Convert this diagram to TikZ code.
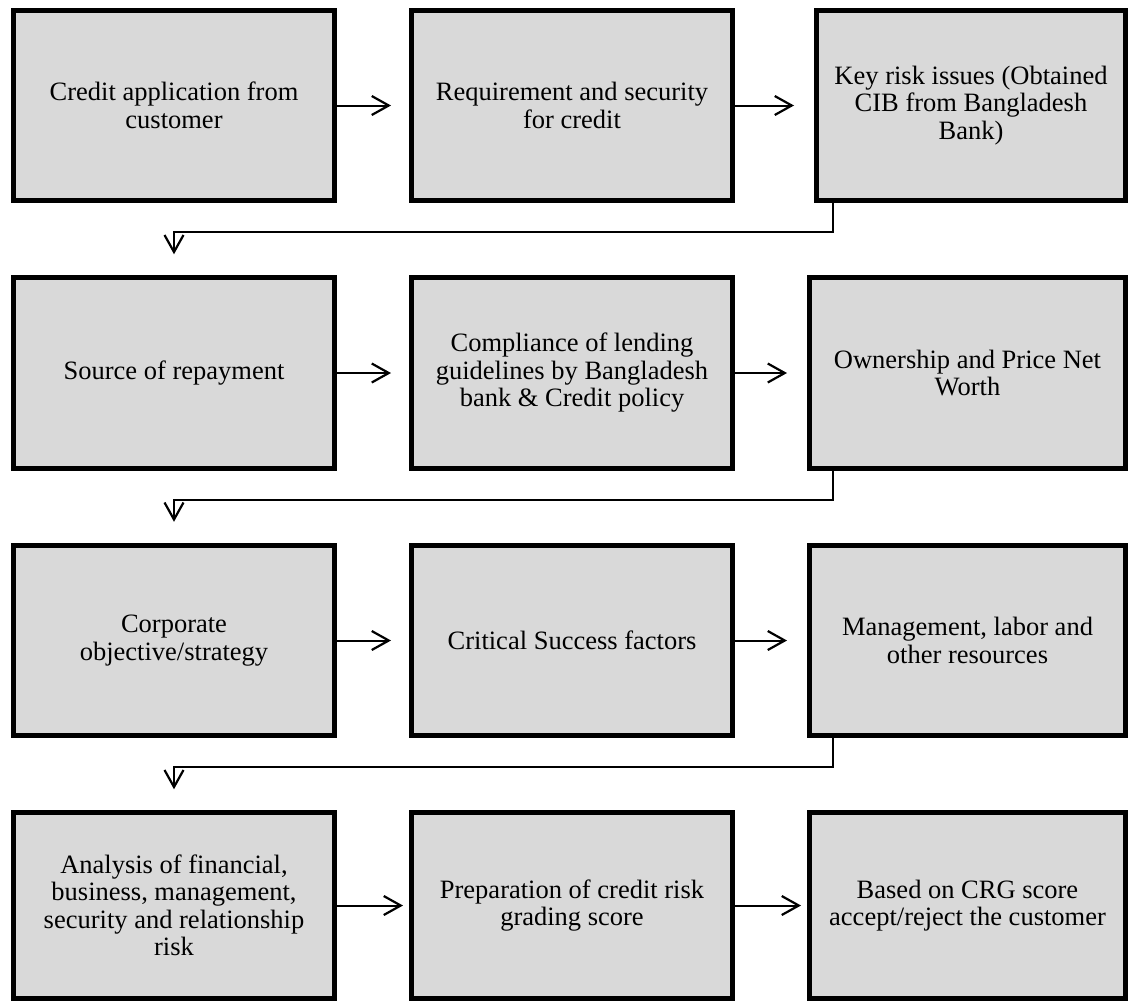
\documentclass[tikz,border=0pt]{standalone}
\usepackage{fontspec}
\setmainfont{Liberation Serif}
\usetikzlibrary{arrows.meta, positioning}

\definecolor{boxgray}{HTML}{D9D9D9}

\begin{document}
\begin{tikzpicture}[x=1pt, y=1pt, node distance=72pt and 72pt,
  every node/.style={font=\fontsize{26.5pt}{27.5pt}\selectfont},
  box/.style={draw, fill=boxgray, line width=5pt, align=center,
    minimum width=321pt, minimum height=190.5pt, inner sep=4pt},
  narrow/.style={minimum width=316pt},
  flow/.style={-{Straight Barb[length=17pt, width=19pt, line width=2.2pt]}, line width=2pt},
  >=Latex]

\useasboundingbox (0,0) rectangle (1131,-1005);

% Nodes
\node (app) [box] at (174,-105.5) {Credit application from\\customer};
\node (req) [box, right=of app] {Requirement and security\\for credit};
\node (key) [box, right=79pt of req, minimum width=309pt] {Key risk issues (Obtained\\CIB from Bangladesh\\Bank)};

\node (src) [box, below=of app] {Source of repayment};
\node (comp) [box, right=of src] {Compliance of lending\\guidelines by Bangladesh\\bank \& Credit policy};
\node (own) [box, narrow, right=of comp] {Ownership and Price Net\\Worth};

\node (corp) [box, below=of src] {Corporate\\objective/strategy};
\node (csf) [box, right=of corp] {Critical Success factors};
\node (mgmt) [box, narrow, right=of csf] {Management, labor and\\other resources};

\node (anal) [box, below=of corp, minimum height=185.5pt] {Analysis of financial,\\business, management,\\security and relationship\\risk};
\node (crg) [box, right=of anal, minimum height=185.5pt] {Preparation of credit risk\\grading score};
\node (dec) [box, narrow, right=of crg, minimum height=185.5pt] {Based on CRG score\\accept/reject the customer};

% Arrows
\draw[flow, shorten >=18pt] (app) -- (req);
\draw[flow, shorten >=20pt] (req) -- (key);
\draw[flow, shorten >=18pt] (src) -- (comp);
\draw[flow, shorten >=20pt] (comp) -- (own);
\draw[flow, shorten >=18pt] (corp) -- (csf);
\draw[flow, shorten >=20pt] (csf) -- (mgmt);
\draw[flow, shorten >=6pt] (anal) -- (crg);
\draw[flow, shorten >=6pt] (crg) -- (dec);

% Row changes
\draw[flow, shorten >=21pt] ([xshift=19pt]key.south west) -- ++(0,-29) -| (src.north);
\draw[flow, shorten >=21pt] ([xshift=26pt]own.south west) -- ++(0,-29) -| (corp.north);
\draw[flow, shorten >=21pt] ([xshift=26pt]mgmt.south west) -- ++(0,-29) -| (anal.north);

\end{tikzpicture}
\end{document}
